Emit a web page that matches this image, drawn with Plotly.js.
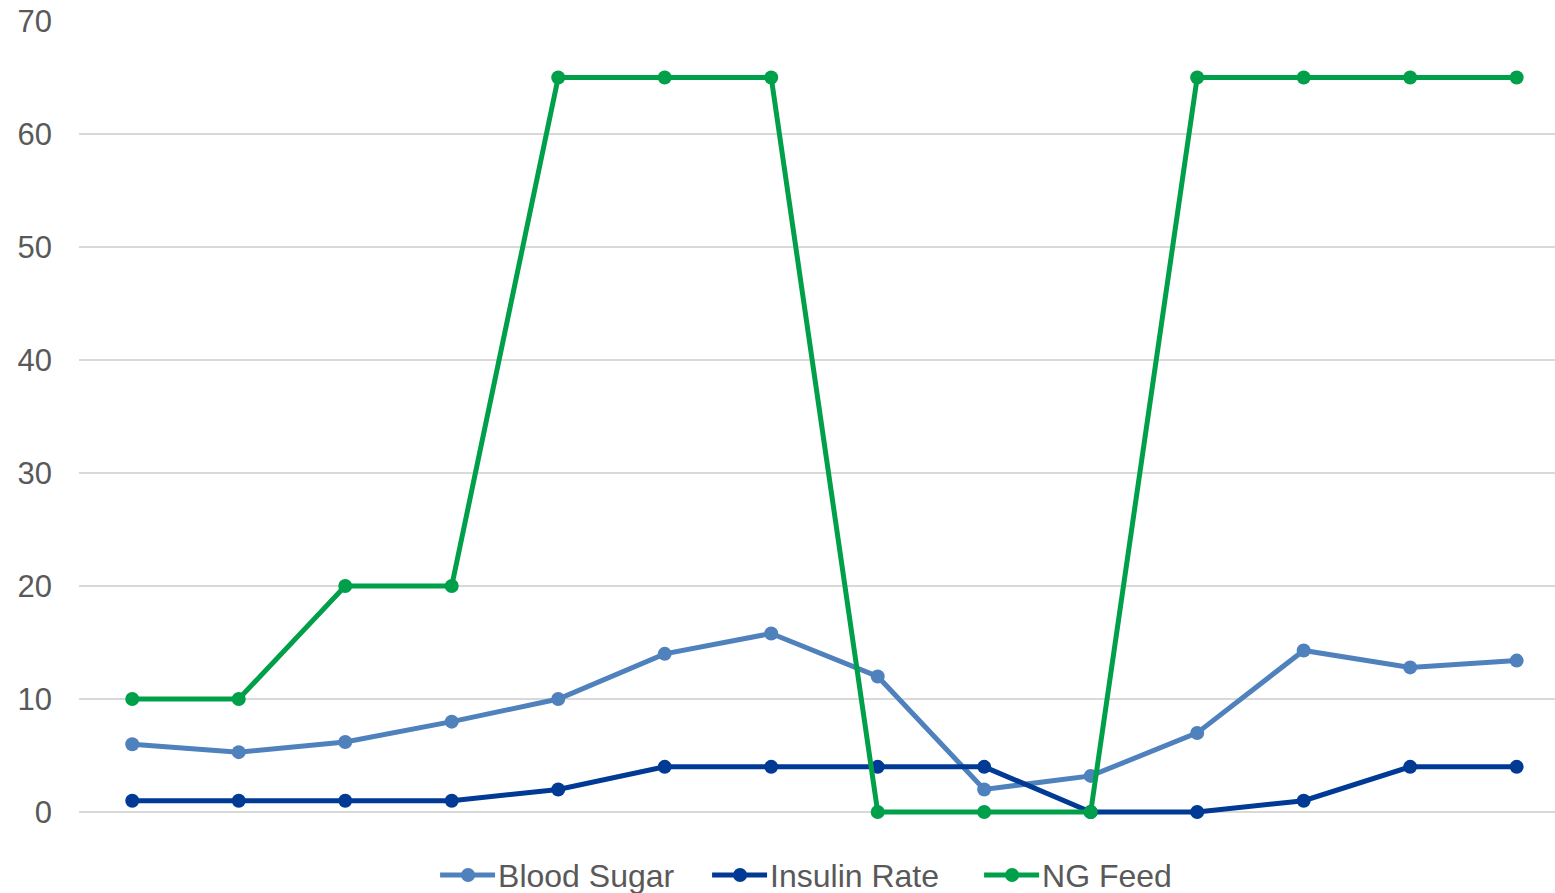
<!DOCTYPE html>
<html>
<head>
<meta charset="utf-8">
<script src="https://cdn.plot.ly/plotly-3.0.1.min.js"></script>
<style>html,body{margin:0;padding:0;background:#fff;}#chart{width:1555px;height:893px;}</style>
</head>
<body>
<div id="chart"></div>
<script>
var categories = [1,2,3,4,5,6,7,8,9,10,11,12,13,14];
var bloodSugar = [6, 5.3, 6.2, 8, 10, 14, 15.8, 12, 2, 3.2, 7, 14.3, 12.8, 13.4];
var insulinRate = [1, 1, 1, 1, 2, 4, 4, 4, 4, 0, 0, 1, 4, 4];
var ngFeed = [10, 10, 20, 20, 65, 65, 65, 0, 0, 0, 65, 65, 65, 65];
var yTicks = [0, 10, 20, 30, 40, 50, 60, 70];

function tr(name, y, color) {
  return {
    x: categories.map(function(c){return c - 1;}), y: y, name: name, type: 'scatter', mode: 'lines+markers',
    line: {color: color, width: 5}, marker: {color: color, size: 14},
    cliponaxis: false
  };
}
var data = [
  tr('Blood Sugar', bloodSugar, '#4f81bd'),
  tr('Insulin Rate', insulinRate, '#003a94'),
  tr('NG Feed', ngFeed, '#00a04a')
];
var layout = {
  width: 1555, height: 893,
  margin: {l: 79, r: 0, t: 21, b: 70, autoexpand: false},
  paper_bgcolor: '#fff', plot_bgcolor: '#fff',
  font: {family: 'Liberation Sans, Arial, sans-serif', color: '#595959'},
  xaxis: {range: [-0.5, 13.36], showticklabels: false, showgrid: false, zeroline: false, showline: false, ticks: ''},
  yaxis: {range: [-0.97, 70], tickvals: yTicks, ticktext: yTicks.map(String), gridcolor: '#d9d9d9', gridwidth: 1.5,
          zeroline: false, showline: false, ticks: '', ticklabelstandoff: 26,
          tickfont: {size: 31, color: '#595959'}},
  showlegend: true,
  legend: {orientation: 'h', x: 0.2426, xanchor: 'left', y: -0.065, yanchor: 'middle',
           font: {size: 32, color: '#595959', family: 'Liberation Sans, Arial, sans-serif'},
           itemwidth: 30, entrywidth: 227, entrywidthmode: 'pixels', tracegroupgap: 0},
  hovermode: false
};
Plotly.newPlot('chart', data, layout, {displayModeBar: false, staticPlot: true}).then(function(){
  document.querySelectorAll('.legend .legendlines path').forEach(function(p){ p.setAttribute('d', 'M3,0h55'); });
  document.querySelectorAll('.legend .legendpoints path').forEach(function(p){ p.setAttribute('transform', 'translate(31,0)'); });
  document.querySelectorAll('.legend text.legendtext').forEach(function(t){ t.setAttribute('x', '61'); });
});
</script>
</body>
</html>
